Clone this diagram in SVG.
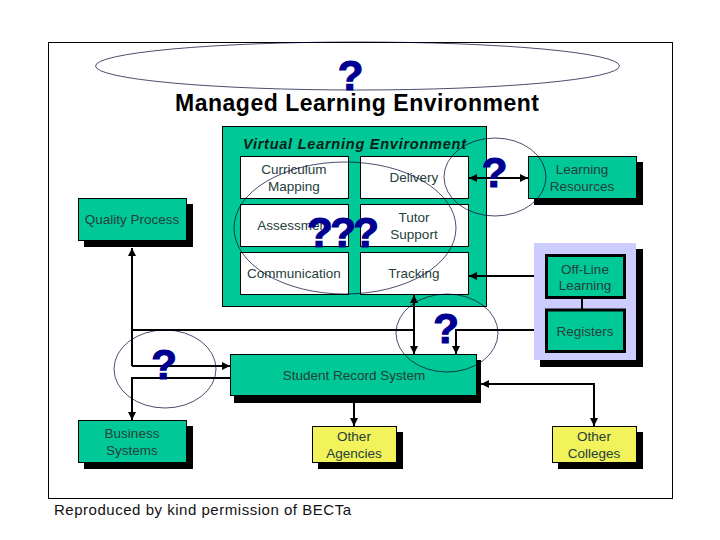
<svg xmlns="http://www.w3.org/2000/svg" width="720" height="540" viewBox="0 0 720 540">
<style>
text{font-family:"Liberation Sans",Arial,sans-serif;text-anchor:middle}
.b{stroke:#000;stroke-width:1}
.g{fill:#00C896}
.w{fill:#fff}
.y{fill:#F2F25A}
.s{fill:#000}
.t{font-size:13.5px;fill:#24403a}
.q{font-size:42px;font-weight:bold;fill:#000090;stroke:#000090;stroke-width:1.200}
.c{fill:none;stroke:#000;stroke-width:2}
.e{fill:none;stroke:#000030;stroke-width:.7}
</style>
<defs>
<marker id="a" markerUnits="userSpaceOnUse" markerWidth="9" markerHeight="8" refX="8" refY="4" orient="auto-start-reverse"><path d="M0 0L8 4L0 8Z" fill="#000"/></marker>
</defs>
<rect width="720" height="540" fill="#fff"/>
<rect x="48.500" y="42.500" width="624" height="456" fill="#fff" stroke="#000"/>
<g id="title"><text x="357" y="111" font-size="23" font-weight="bold" fill="#000" textLength="364" lengthAdjust="spacing">Managed Learning Environment</text></g>
<g id="vle"><rect class="g b" x="222.500" y="126.500" width="264" height="180"/>
<text x="354.500" y="149" font-size="14.500" font-weight="bold" font-style="italic" fill="#0a2018" textLength="223" lengthAdjust="spacing">Virtual Learning Environment</text></g>
<g id="curriculum"><rect class="w b" x="240.500" y="156.500" width="108" height="42"/><text class="t" x="294" y="174">Curriculum</text><text class="t" x="294" y="191">Mapping</text></g>
<g id="delivery"><rect class="w b" x="360.500" y="156.500" width="108" height="42"/><text class="t" x="414" y="182">Delivery</text></g>
<g id="assessment"><rect class="w b" x="240.500" y="204.500" width="108" height="42"/><text class="t" x="294" y="230">Assessment</text></g>
<g id="tutor"><rect class="w b" x="360.500" y="204.500" width="108" height="42"/><text class="t" x="414" y="222">Tutor</text><text class="t" x="414" y="239">Support</text></g>
<g id="communication"><rect class="w b" x="240.500" y="252.500" width="108" height="42"/><text class="t" x="294" y="278">Communication</text></g>
<g id="tracking"><rect class="w b" x="360.500" y="252.500" width="108" height="42"/><text class="t" x="414" y="278">Tracking</text></g>
<g id="quality"><rect class="s" x="84" y="204" width="109" height="43"/><rect class="g b" x="78.500" y="198.500" width="108" height="42"/><text class="t" x="132" y="224">Quality Process</text></g>
<g id="resources"><rect class="s" x="534" y="162" width="109" height="43"/><rect class="g b" x="528.500" y="156.500" width="108" height="42"/><text class="t" x="582" y="174">Learning</text><text class="t" x="582" y="191">Resources</text></g>
<g id="offline-group"><rect class="s" x="540" y="249" width="103" height="118"/><rect x="534" y="243" width="102" height="117" fill="#CCCCFF"/></g>
<g id="offline"><rect class="g" x="546.500" y="255.500" width="78" height="42" stroke="#000" stroke-width="3"/><text class="t" x="585" y="274">Off-Line</text><text class="t" x="585" y="290">Learning</text></g>
<g id="registers"><rect class="g" x="546.500" y="310" width="78" height="41.500" stroke="#000" stroke-width="3"/><text class="t" x="585" y="336">Registers</text></g>
<g id="student"><rect class="s" x="234" y="360" width="247" height="43"/><rect class="g b" x="230.500" y="354.500" width="246" height="41"/><text class="t" x="354" y="380">Student Record System</text></g>
<g id="business"><rect class="s" x="84" y="426" width="109" height="43"/><rect class="g b" x="78.500" y="420.500" width="108" height="42"/><text class="t" x="132" y="438">Business</text><text class="t" x="132" y="455">Systems</text></g>
<g id="agencies"><rect class="s" x="318" y="432" width="85" height="37"/><rect class="y b" x="312.500" y="426.500" width="84" height="36"/><text class="t" x="354" y="441">Other</text><text class="t" x="354" y="458">Agencies</text></g>
<g id="colleges"><rect class="s" x="558" y="432" width="85" height="37"/><rect class="y b" x="552.500" y="426.500" width="84" height="36"/><text class="t" x="594" y="441">Other</text><text class="t" x="594" y="458">Colleges</text></g>
<g id="connectors">
<path class="c" d="M132 366V248" marker-end="url(#a)"/>
<path class="c" d="M132 366H230" marker-end="url(#a)"/>
<path class="c" d="M230 378H132V420" marker-end="url(#a)"/>
<path class="c" d="M132 330H414"/>
<path class="c" d="M414 295V354" marker-start="url(#a)" marker-end="url(#a)"/>
<path class="c" d="M534 330H456V354" marker-end="url(#a)"/>
<path class="c" d="M534 276H469" marker-end="url(#a)"/>
<path class="c" d="M469 178H528" marker-start="url(#a)" marker-end="url(#a)"/>
<path class="c" d="M354 403V426" marker-end="url(#a)"/>
<path class="c" d="M481 384H594V426" marker-start="url(#a)" marker-end="url(#a)"/>
<path class="c" d="M582 298V309"/>
</g>
<g id="questions">
<ellipse class="e" cx="357.500" cy="66" rx="262" ry="24"/>
<ellipse class="e" cx="345" cy="228" rx="111" ry="66"/>
<ellipse class="e" cx="495" cy="177" rx="51" ry="39"/>
<ellipse class="e" cx="447" cy="333" rx="51" ry="39"/>
<ellipse class="e" cx="165" cy="369" rx="51" ry="39"/>
<text class="q" x="350.500" y="90">?</text>
<text class="q" x="343" y="247" textLength="72" lengthAdjust="spacing">???</text>
<text class="q" x="494.500" y="187">?</text>
<text class="q" x="446" y="343">?</text>
<text class="q" x="164" y="379">?</text>
</g>
<text x="202.500" y="515" font-size="15" fill="#111" textLength="297" lengthAdjust="spacing">Reproduced by kind permission of BECTa</text>
</svg>
